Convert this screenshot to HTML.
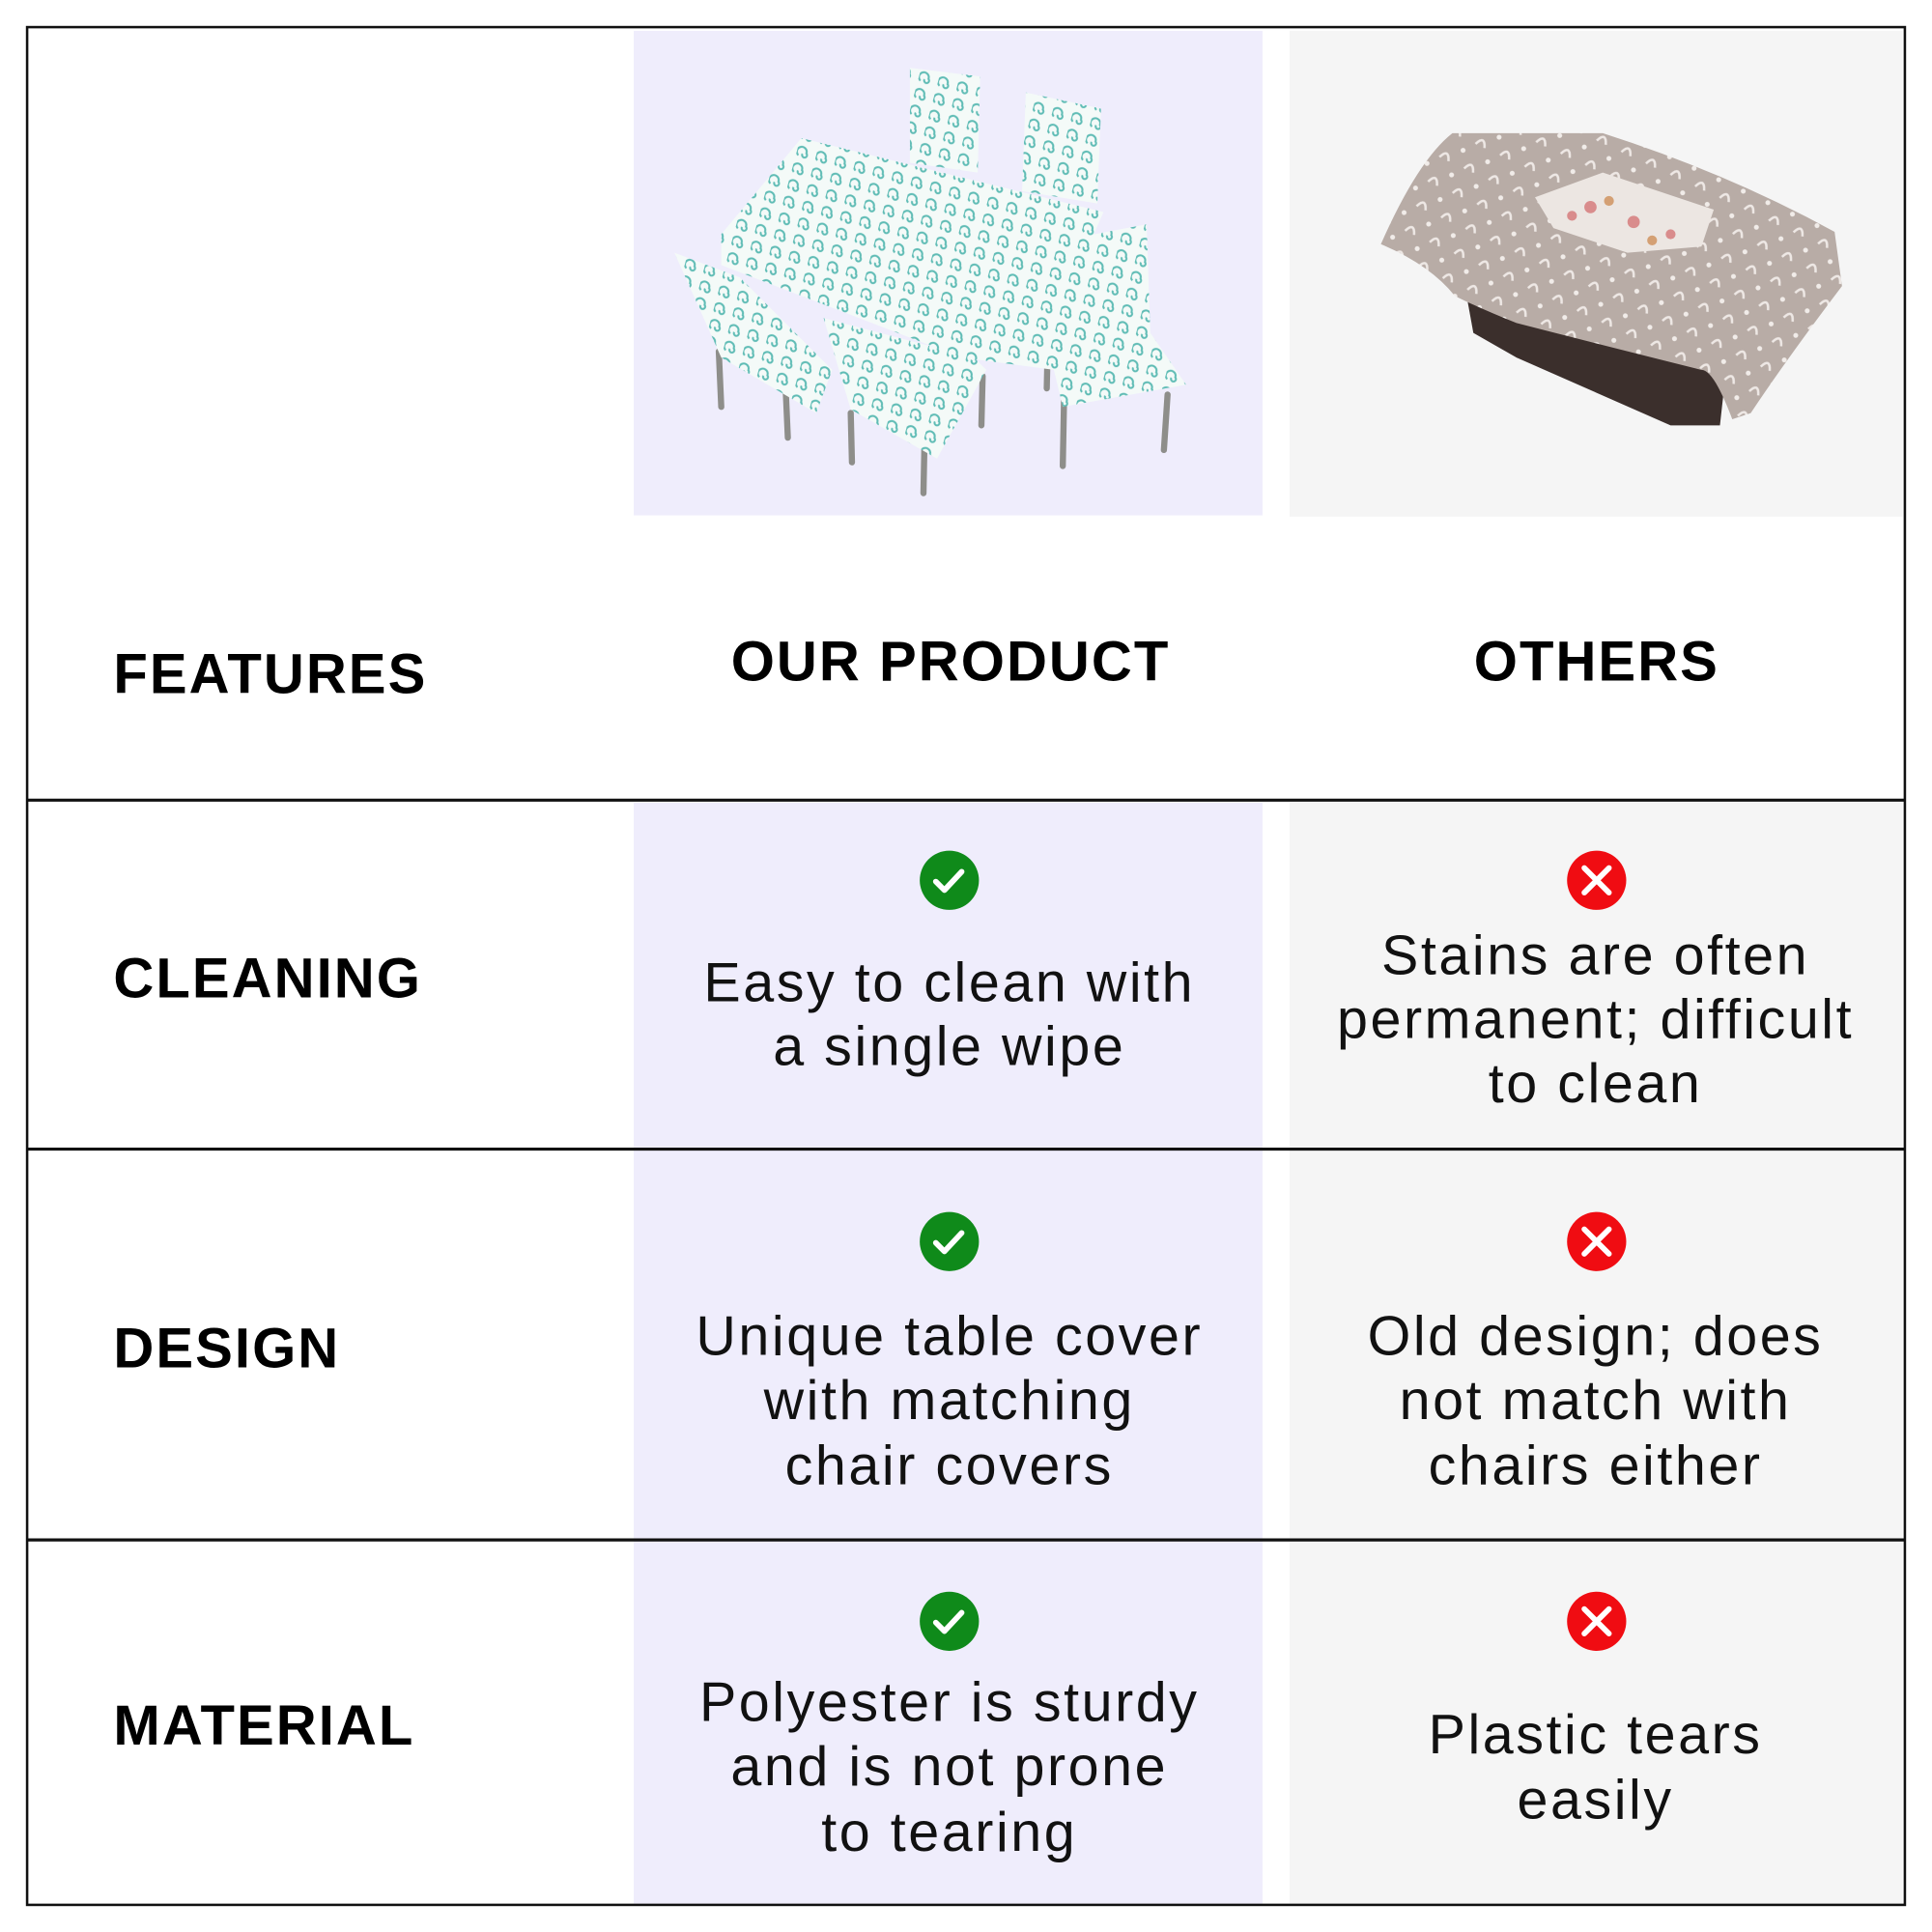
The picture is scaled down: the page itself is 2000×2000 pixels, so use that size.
<!DOCTYPE html>
<html><head><meta charset="utf-8"><style>
html,body{margin:0;padding:0;background:#fff;}
svg{display:block;}
</style></head><body>
<svg width="2000" height="2000" viewBox="0 0 1567 1567" xmlns="http://www.w3.org/2000/svg">
<defs>
<pattern id="sw" width="16" height="14" patternUnits="userSpaceOnUse" patternTransform="rotate(15)">
<rect width="16" height="14" fill="#f4faf8"/>
<path d="M2 10 a4 4 0 1 1 6 -3 a2 2 0 1 1 -3 1" fill="none" stroke="#5fbcb5" stroke-width="1.6"/>
</pattern>
<pattern id="lace" width="22" height="22" patternUnits="userSpaceOnUse" patternTransform="rotate(25)">
<rect width="22" height="22" fill="#b8aca6"/>
<circle cx="5" cy="5" r="2" fill="#f1ece9"/>
<path d="M12 18 q4 -10 8 0" fill="none" stroke="#eee8e5" stroke-width="2"/>
</pattern>
</defs>
<rect x="0" y="0" width="1567" height="1567" fill="#fff"/>
<rect x="514" y="25" width="510" height="393" fill="#efedfc"/>
<rect x="1046" y="25" width="497" height="394" fill="#f5f5f5"/>
<rect x="514" y="651" width="510" height="893" fill="#efedfc"/>
<rect x="1046" y="651" width="497" height="893" fill="#f5f5f5"/>
<rect x="22" y="22" width="1523" height="1523" fill="none" stroke="#111" stroke-width="2"/>
<line x1="22" y1="649" x2="1545" y2="649" stroke="#111" stroke-width="2.5"/>
<line x1="22" y1="932" x2="1545" y2="932" stroke="#111" stroke-width="2.5"/>
<line x1="22" y1="1249" x2="1545" y2="1249" stroke="#111" stroke-width="2.5"/>

<g stroke="#8e8e8a" stroke-width="5" stroke-linecap="round">
<line x1="583" y1="285" x2="585" y2="330"/><line x1="637" y1="310" x2="639" y2="355"/>
<line x1="690" y1="335" x2="691" y2="375"/><line x1="750" y1="350" x2="749" y2="400"/>
<line x1="797" y1="305" x2="796" y2="345"/><line x1="863" y1="325" x2="862" y2="378"/>
<line x1="947" y1="320" x2="944" y2="365"/><line x1="850" y1="270" x2="849" y2="315"/>
</g>
<polygon points="738,55 795,62 793,140 738,132" fill="url(#sw)"/>
<polygon points="832,75 893,88 890,165 829,155" fill="url(#sw)"/>
<polygon points="585,190 650,112 895,172 872,225 855,300 780,290 585,215" fill="url(#sw)"/>
<polygon points="547,205 600,225 675,300 662,335 585,290" fill="url(#sw)"/>
<polygon points="668,258 790,290 800,300 760,372 690,332" fill="url(#sw)"/>
<polygon points="855,196 930,182 933,270 962,312 862,330 850,280" fill="url(#sw)"/>

<polygon points="1185,215 1400,300 1395,345 1355,345 1230,290 1195,270" fill="#3b2f2c"/>
<path d="M1120,198 Q1150,130 1178,108 L1300,108 Q1400,140 1488,188 L1494,232 Q1450,290 1420,335 L1405,340 Q1390,300 1380,300 Q1300,280 1230,262 Q1200,250 1180,240 Q1160,215 1120,198 Z" fill="url(#lace)"/>
<polygon points="1245,160 1300,140 1390,170 1380,200 1320,205 1260,185" fill="#ece6e2"/>
<g fill="#d98c8c"><circle cx="1290" cy="168" r="5"/><circle cx="1325" cy="180" r="5"/><circle cx="1355" cy="190" r="4"/><circle cx="1275" cy="175" r="4"/></g>
<g fill="#d4a074"><circle cx="1305" cy="163" r="4"/><circle cx="1340" cy="195" r="4"/></g>

<g font-family="Liberation Sans, sans-serif" font-weight="bold" font-size="45.5" fill="#000" letter-spacing="1.6">
<text x="92" y="562">FEATURES</text>
<text x="771" y="552" text-anchor="middle">OUR PRODUCT</text>
<text x="1295" y="552" text-anchor="middle">OTHERS</text>
<text x="92" y="809">CLEANING</text>
<text x="92" y="1109">DESIGN</text>
<text x="92" y="1415">MATERIAL</text>
</g>

<g>
<circle cx="770" cy="714" r="24" fill="#0f8a1a"/><path d="M759 715 l7 7 l14 -15" fill="none" stroke="#fff" stroke-width="4.5" stroke-linecap="round" stroke-linejoin="round"/>
<circle cx="770" cy="1007" r="24" fill="#0f8a1a"/><path d="M759 1008 l7 7 l14 -15" fill="none" stroke="#fff" stroke-width="4.5" stroke-linecap="round" stroke-linejoin="round"/>
<circle cx="770" cy="1315" r="24" fill="#0f8a1a"/><path d="M759 1316 l7 7 l14 -15" fill="none" stroke="#fff" stroke-width="4.5" stroke-linecap="round" stroke-linejoin="round"/>
<circle cx="1295" cy="714" r="24" fill="#f00c12"/><path d="M1285 704 l20 20 M1305 704 l-20 20" stroke="#fff" stroke-width="4.5" stroke-linecap="round"/>
<circle cx="1295" cy="1007" r="24" fill="#f00c12"/><path d="M1285 997 l20 20 M1305 997 l-20 20" stroke="#fff" stroke-width="4.5" stroke-linecap="round"/>
<circle cx="1295" cy="1315" r="24" fill="#f00c12"/><path d="M1285 1305 l20 20 M1305 1305 l-20 20" stroke="#fff" stroke-width="4.5" stroke-linecap="round"/>
</g>

<g font-family="Liberation Sans, sans-serif" font-size="45" fill="#111" text-anchor="middle" letter-spacing="2">
<text x="770" y="812">Easy to clean with</text>
<text x="770" y="864">a single wipe</text>
<text x="1294" y="790">Stains are often</text>
<text x="1294" y="842">permanent; difficult</text>
<text x="1294" y="894">to clean</text>
<text x="770" y="1099">Unique table cover</text>
<text x="770" y="1151">with matching</text>
<text x="770" y="1204">chair covers</text>
<text x="1294" y="1099">Old design; does</text>
<text x="1294" y="1151">not match with</text>
<text x="1294" y="1204">chairs either</text>
<text x="770" y="1396">Polyester is sturdy</text>
<text x="770" y="1448">and is not prone</text>
<text x="770" y="1501">to tearing</text>
<text x="1294" y="1422">Plastic tears</text>
<text x="1294" y="1475">easily</text>
</g>
</svg>
</body></html>
